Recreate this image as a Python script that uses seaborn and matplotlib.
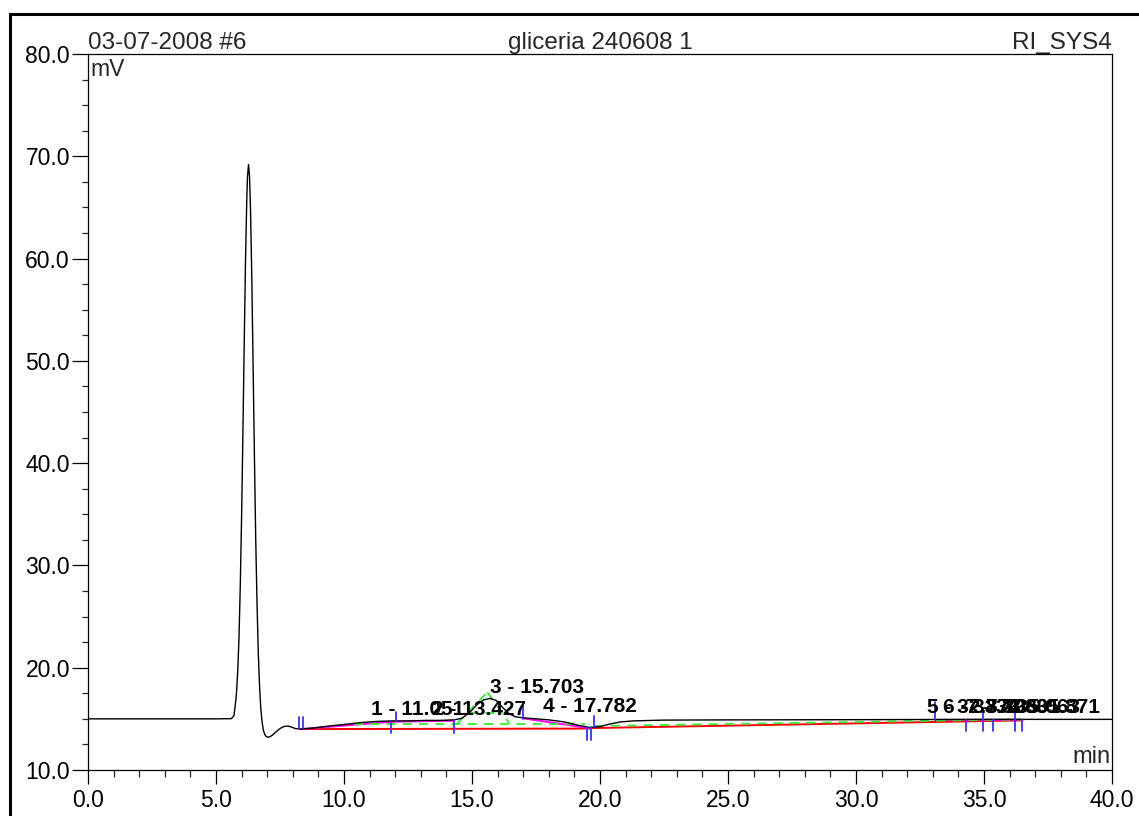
import matplotlib
matplotlib.use("Agg")
import matplotlib.pyplot as plt
from matplotlib.patches import Rectangle
from matplotlib.ticker import MultipleLocator
import seaborn as sns
import pandas as pd

# ---------------- data ----------------
time_min = [0.0, 5.0, 5.6, 5.7, 5.75, 5.8, 5.85, 5.9, 5.95, 6.0, 6.05, 6.1, 6.15, 6.2, 6.23,
            6.27, 6.31, 6.35, 6.4, 6.45, 6.5, 6.55, 6.6, 6.65, 6.7, 6.75, 6.8, 6.85, 6.9,
            6.95, 7.02, 7.1, 7.2, 7.35, 7.5, 7.65, 7.8, 7.95, 8.1, 8.3, 8.8, 9.4, 10.0,
            10.7, 11.3, 11.9, 12.5, 13.2, 13.8, 14.3, 14.6, 14.9, 15.2, 15.45, 15.7, 15.95,
            16.2, 16.45, 16.7, 17.0, 17.5, 18.0, 18.6, 19.1, 19.6, 20.0, 20.4, 20.8, 21.3,
            22.5, 25.0, 30.0, 35.0, 40.0]
signal_mv = [15.0, 15.0, 15.02, 15.3, 16.3, 17.5, 19.7, 23.1, 28.2, 34.8, 42.7, 51.3, 59.4,
             65.6, 68.0, 69.2, 68.0, 64.6, 57.9, 49.4, 40.8, 32.8, 26.6, 21.6, 18.3, 16.0,
             14.7, 13.9, 13.5, 13.3, 13.2, 13.25, 13.4, 13.75, 14.05, 14.25, 14.3, 14.2,
             14.05, 14.0, 14.1, 14.3, 14.45, 14.65, 14.75, 14.8, 14.8, 14.85, 14.85, 14.9,
             15.05, 15.6, 16.4, 16.85, 17.0, 16.8, 16.1, 15.5, 15.2, 15.1, 15.0, 14.9, 14.7,
             14.4, 14.15, 14.25, 14.5, 14.7, 14.8, 14.88, 14.9, 14.92, 14.95, 14.95]

# integration baselines: (t0, y0, t1, y1)
red_baselines = [(8.3, 14.0, 19.6, 14.05), (19.7, 14.1, 36.5, 14.85)]
magenta_baselines = [(8.3, 14.0, 11.9, 14.72), (11.9, 14.72, 14.3, 14.82),
                     (17.0, 15.05, 19.55, 14.1), (33.1, 14.9, 36.5, 14.92)]
green_dashed = [(10.4, 14.45, 19.4, 14.45), (14.4, 14.5, 15.6, 17.6),
                (15.6, 17.6, 16.45, 14.6), (14.9, 15.6, 16.2, 15.6),
                (19.8, 14.3, 36.5, 14.95)]
# peak delimiter marks: (t, y_low, y_high)
blue_marks = [(8.25, 14.1, 15.2), (8.38, 14.1, 15.2), (11.85, 13.6, 14.6),
              (12.05, 14.75, 15.7), (14.3, 13.6, 14.9), (17.0, 15.0, 16.5),
              (19.5, 12.9, 14.2), (19.65, 12.9, 14.2), (19.77, 14.2, 15.3),
              (33.1, 14.9, 16.65), (34.3, 13.8, 14.9), (34.95, 13.8, 14.9),
              (34.95, 14.9, 16.1), (35.35, 13.8, 14.9), (36.2, 13.8, 14.9),
              (36.2, 14.9, 16.2), (36.5, 13.8, 14.9)]

peak_numbers = [1, 2, 3, 4, 5, 6, 7, 8, 9]
peak_times = [11.051, 13.427, 15.703, 17.782, 32.773, 33.396, 34.301, 35.063, 35.871]
label_heights = [15.95, 15.95, 18.05, 16.2, 16.1, 16.1, 16.1, 16.1, 16.1]

x_ticks = [0.0, 5.0, 10.0, 15.0, 20.0, 25.0, 30.0, 35.0, 40.0]
y_ticks = [10.0, 20.0, 30.0, 40.0, 50.0, 60.0, 70.0, 80.0]

# ---------------- style ----------------
sns.set_style("ticks")
plt.rcParams["font.family"] = ["Liberation Sans", "DejaVu Sans"]

W, H = 1139, 816
fig = plt.figure(figsize=(W / 100, H / 100), dpi=100)
ax = fig.add_axes([88 / W, 1 - 770 / H, (1112 - 88) / W, (770 - 54) / H])

df = pd.DataFrame({"time": time_min, "mV": signal_mv})
sns.lineplot(data=df, x="time", y="mV", ax=ax, color="black", lw=1.0,
             sort=False, estimator=None, zorder=5)

for t0, y0, t1, y1 in red_baselines:
    ax.plot([t0, t1], [y0, y1], color="#ff0000", lw=1.4, zorder=3)
for t0, y0, t1, y1 in magenta_baselines:
    ax.plot([t0, t1], [y0, y1], color="#ff00ff", lw=1.4, zorder=4)
for t0, y0, t1, y1 in green_dashed:
    ax.plot([t0, t1], [y0, y1], color="#33ee33", lw=1.3, ls=(0, (5, 4)), zorder=4)
for t, ylo, yhi in blue_marks:
    ax.plot([t, t], [ylo, yhi], color="#3333ff", lw=1.3, zorder=6)

for n, t, yh in zip(peak_numbers, peak_times, label_heights):
    ax.text(t, yh, f"{n} - {t:.3f}", ha="left", va="center", fontsize=15,
            fontweight="bold", color="black", zorder=7)

ax.set_xlim(0, 40)
ax.set_ylim(10, 80)
ax.set_xticks(x_ticks)
ax.set_xticklabels([f"{v:.1f}" for v in x_ticks])
ax.set_yticks(y_ticks)
ax.set_yticklabels([f"{v:.1f}" for v in y_ticks])
ax.xaxis.set_minor_locator(MultipleLocator(1.0))
ax.yaxis.set_minor_locator(MultipleLocator(2.5))
ax.tick_params(axis="x", which="major", length=10, width=0.9, pad=4,
               labelsize=16.5, direction="out", colors="black")
ax.tick_params(axis="x", which="minor", length=5, width=0.9, direction="out")
ax.tick_params(axis="y", which="major", length=11.5, width=0.9, pad=1.5,
               labelsize=16.5, direction="out", colors="black")
ax.tick_params(axis="y", which="minor", length=4.3, width=0.9, direction="out")
ax.set_xlabel("")
ax.set_ylabel("")
for s in ax.spines.values():
    s.set_visible(True)
    s.set_linewidth(0.9)
    s.set_color("black")

ax.text(0.002, 0.995, "mV", transform=ax.transAxes, ha="left", va="top", fontsize=16.5)
ax.text(0.999, 0.0098, "min", transform=ax.transAxes, ha="right", va="baseline", fontsize=17)

ax.text(0.0, 1.007, "03-07-2008 #6", transform=ax.transAxes, ha="left", va="baseline", fontsize=17.5)
ax.text(0.5, 1.007, "gliceria 240608 1", transform=ax.transAxes, ha="center", va="baseline", fontsize=17.5)
ax.text(1.0, 1.007, "RI_SYS4", transform=ax.transAxes, ha="right", va="baseline", fontsize=17.5)

# outer frame (left and top edges visible, the rest runs off the picture)
fig.patches.append(Rectangle((10 / W, -0.5), 2.0, 1 - 14 / H + 0.5, transform=fig.transFigure,
                             fill=False, edgecolor="black", lw=2.2, zorder=10))

fig.savefig("out.png", dpi=100)
